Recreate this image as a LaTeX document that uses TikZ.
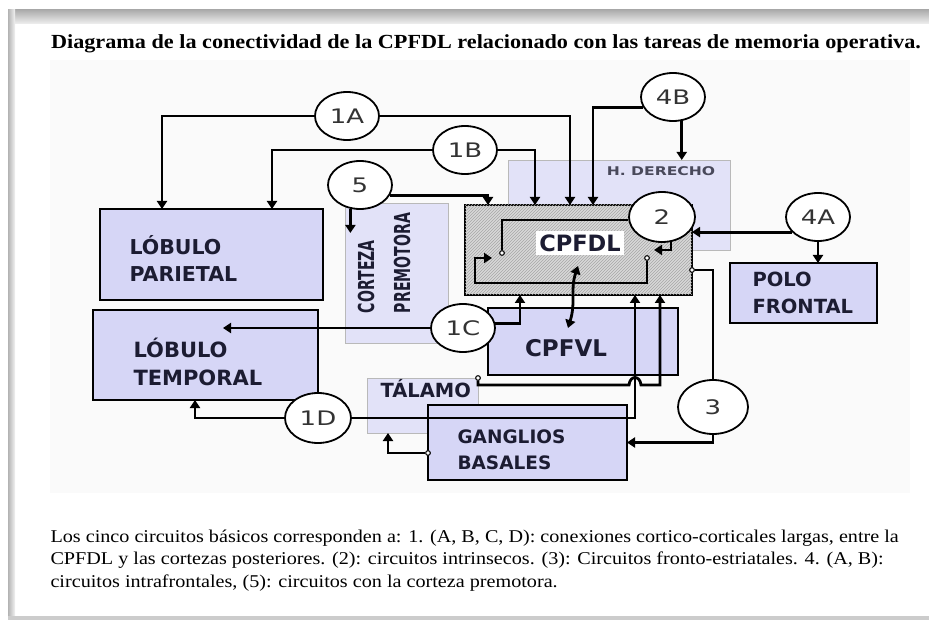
\documentclass[tikz,border=0pt]{standalone}
\usepackage{fontspec}
\setmainfont{Liberation Serif}
\newfontfamily\boxfont{DejaVu Sans}
\usetikzlibrary{shapes.geometric,patterns,arrows.meta}

\definecolor{boxblue}{RGB}{214,214,246}
\definecolor{softblue}{RGB}{226,226,248}
\definecolor{labelnavy}{RGB}{28,28,50}

\newcommand{\widelabel}[1]{\scalebox{1.3}[1]{#1}}

\tikzset{
  region/.style={rectangle,draw=black,line width=2.6pt,fill=boxblue,anchor=north west,inner sep=0pt,outer sep=0pt},
  softregion/.style={rectangle,draw=gray!55,line width=0.8pt,fill=softblue,anchor=north west,inner sep=0pt,outer sep=0pt},
  circuit/.style={ellipse,draw=black,line width=1.8pt,fill=white,minimum width=64pt,minimum height=48pt,inner sep=0pt,font=\boxfont\fontsize{20}{20}\selectfont,text=black!80},
  boxlabel/.style={font=\boxfont\bfseries\fontsize{20.5}{27}\selectfont,text=labelnavy,align=left,anchor=west},
  wire/.style={line width=2.8pt},
  term/.style={circle,draw=black,line width=0.9pt,fill=white,inner sep=1.6pt},
}

\begin{document}
\begin{tikzpicture}[x=1pt,y=-1pt,>={Triangle[width=10pt,length=8pt]}]
\useasboundingbox (0,0) rectangle (929,620);
%Page
\fill[white] (0,0) rectangle (929,620);
\shade[top color=gray!65,bottom color=gray!12] (8,10) rectangle (929,24);
\shade[left color=gray!60,right color=gray!10] (8,10) rectangle (15,620);
\fill[gray!40] (8,616) rectangle (929,620);
\fill[gray!4] (50,60) rectangle (910,493);

\node [font=\bfseries\fontsize{20}{22}\selectfont] (title) at (486,44) {\scalebox{1.11}[1]{Diagrama de la conectividad de la CPFDL relacionado con las tareas de memoria operativa.}};

%Regions
\node [softregion,minimum width=103pt,minimum height=140pt] (premotora) at (345,203) {};
\node [softregion,minimum width=222pt,minimum height=90pt] (hder) at (508,160) {};
\node [region,minimum width=223pt,minimum height=91pt] (parietal) at (100,209) {};
\node [region,minimum width=225pt,minimum height=90pt] (temporal) at (93,310) {};
\node [region,minimum width=190pt,minimum height=67pt] (cpfvl) at (488,308) {};
\node [region,minimum width=147pt,minimum height=60pt] (polo) at (730,263) {};
\node [softregion,minimum width=111pt,minimum height=55pt] (talamo) at (367,378) {};
\node [region,minimum width=199pt,minimum height=75pt] (ganglios) at (428,405) {};
\node [region,fill=gray!30,postaction={pattern=north east lines,pattern color=gray!70},minimum width=227pt,minimum height=90pt] (cpfdl) at (465,205) {};

%Labels
\node [boxlabel] at (126,258) {LÓBULO\\PARIETAL};
\node [boxlabel,font=\boxfont\bfseries\fontsize{21}{28}\selectfont] at (130,362) {LÓBULO\\TEMPORAL};
\node [boxlabel,font=\boxfont\bfseries\fontsize{19.5}{27}\selectfont] at (749,293) {POLO\\FRONTAL};
\node [boxlabel,font=\boxfont\bfseries\fontsize{18.5}{26}\selectfont] at (454,450) {GANGLIOS\\BASALES};
\node [boxlabel,font=\boxfont\bfseries\fontsize{19.5}{19.5}\selectfont] at (377,389) {TÁLAMO};
\node [boxlabel,font=\boxfont\bfseries\fontsize{23}{23}\selectfont,anchor=center] at (566,348) {CPFVL};
\node [boxlabel,font=\boxfont\bfseries\fontsize{22.5}{22.5}\selectfont,anchor=center,fill=white,inner sep=3pt] (cpfdltext) at (580,243) {CPFDL};
\node [boxlabel,font=\boxfont\bfseries\fontsize{12}{12}\selectfont,text=labelnavy!80,anchor=center] at (661,171) {\scalebox{1.3}[1]{H. DERECHO}};
\node [boxlabel,font=\boxfont\bfseries\fontsize{22}{36}\selectfont,rotate=90,anchor=center] at (384,263) {\scalebox{0.64}[1]{CORTEZA}\\\scalebox{0.64}[1]{PREMOTORA}};

%Circuits
\node [circuit] (c1A) at (347,116) {\widelabel{1A}};
\node [circuit] (c1B) at (465,150) {\widelabel{1B}};
\node [circuit] (c5) at (360,185) {\widelabel{5}};
\node [circuit] (c4B) at (673,97) {\widelabel{4B}};
\node [circuit] (c4A) at (818,217) {\widelabel{4A}};
\node [circuit] (c1C) at (463,328) {\widelabel{1C}};
\node [circuit,minimum width=66pt,minimum height=50pt] (c1D) at (318,418) {\widelabel{1D}};
\node [circuit,minimum width=70pt,minimum height=54pt] (c3) at (713,407) {\widelabel{3}};

%Arrow tips
\coordinate (p1) at (162,209);
\coordinate (p2) at (272,209);
\coordinate (d1) at (570,205);
\coordinate (d2) at (535,205);
\coordinate (d3) at (593,205);
\coordinate (d4) at (488,205);
\coordinate (pm) at (348,233);
\coordinate (tm) at (223,328);
\coordinate (tb) at (195,400);
\coordinate (u1) at (520,295);
\coordinate (u2) at (635,295);
\coordinate (u3) at (660,295);
\coordinate (ta) at (388,433);
\coordinate (va) at (578,266);
\coordinate (vb) at (568,328);

%Terminals
\node [term] (t2a) at (502,253) {};
\node [term] (t2b) at (647,258) {};
\node [term] (tt) at (478,378) {};
\node [term] (tg) at (428,453) {};
\node [term] (t3) at (692,270) {};

\draw [wire,->] (c1A) -| (p1);
\draw [wire,->] (c1A) -| (d1);
\draw [wire,->] (c1B) -| (p2);
\draw [wire,->] (c1B) -| (d2);
\draw [wire,->] (c4B.200) -| (d3);
\draw [wire,->] (c4B.290) -- (c4B.290 |- hder.north);
\draw [wire,->] (c5.-20) -| (d4);
\draw [wire,->] (c5.248) -- (c5.248 |- pm);
\draw [wire,->] (c4A.210) -- (c4A.210 -| cpfdl.east);
\draw [wire,->] (c4A.south) -- (c4A.south |- polo.north);
\draw [wire,->] (c1C) -- (tm);
\draw [wire,->] (c1C.8) -| (u1);
\draw [wire,->] (c1D) -| (tb);
\draw [wire,->] (c1D) -| (u2);
\draw [wire,->] (tt) |- (629,385) .. controls (630,375) and (640,375) .. (641,385) -| (u3);
\draw [wire,->] (tg) -| (ta);
\draw [wire,<->] (va) .. controls (570,290) and (576,302) .. (vb);
\draw [wire] (t3) -| (c3.north);
\draw [wire,->] (c3.south) |- (ganglios.east);

%Intrinsic loop
\node [circuit,minimum width=66pt,minimum height=50pt] (c2) at (662,217) {\widelabel{2}};
\draw [wire] (c2.185) -| (t2a);
\draw [wire,->] (t2b) -- ++(0,25) -| ++(-172,-25) -- ++(17,0);
\draw [wire,->] (c2.290) -- ++(0,8) -- ++(-17,0);
\node [term] at (t2a) {};
\node [term] at (t2b) {};
\node [term] at (tt) {};
\node [term] at (tg) {};
\node [term] at (t3) {};

%Caption
\node [anchor=base west,align=left,font=\fontsize{18}{22.5}\selectfont] (caption) at (47,587) {\scalebox{1.12}[1]{Los cinco circuitos básicos corresponden a: 1. (A, B, C, D): conexiones cortico-corticales largas, entre la}\\\scalebox{1.12}[1]{CPFDL y las cortezas posteriores. (2): circuitos intrinsecos. (3): Circuitos fronto-estriatales. 4. (A, B):}\\\scalebox{1.12}[1]{circuitos intrafrontales, (5): circuitos con la corteza premotora.}};
\end{tikzpicture}
\end{document}
